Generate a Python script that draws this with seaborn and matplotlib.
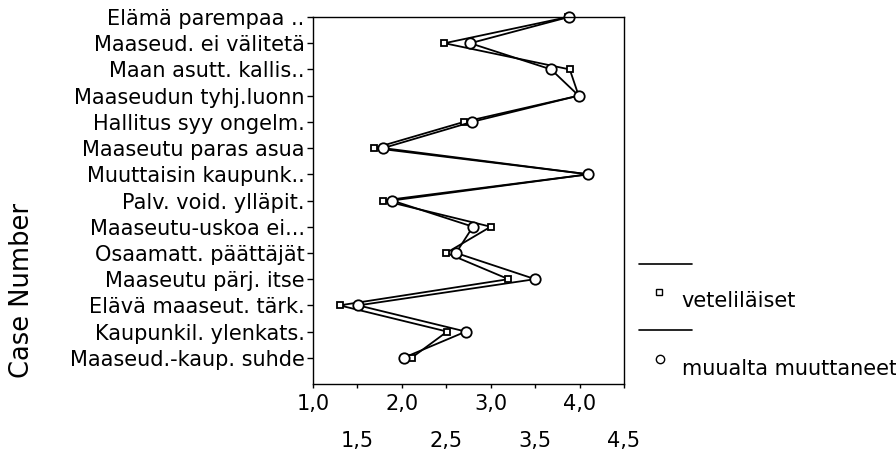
import matplotlib
matplotlib.use("Agg")
import matplotlib.pyplot as plt
from matplotlib.lines import Line2D
from matplotlib.ticker import FixedLocator, FixedFormatter
import seaborn as sns
import pandas as pd

categories = [
    "Elämä parempaa ..",
    "Maaseud. ei välitetä",
    "Maan asutt. kallis..",
    "Maaseudun tyhj.luonn",
    "Hallitus syy ongelm.",
    "Maaseutu paras asua",
    "Muuttaisin kaupunk..",
    "Palv. void. ylläpit.",
    "Maaseutu-uskoa ei...",
    "Osaamatt. päättäjät",
    "Maaseutu pärj. itse",
    "Elävä maaseut. tärk.",
    "Kaupunkil. ylenkats.",
    "Maaseud.-kaup. suhde",
]
veteli = [3.87, 2.48, 3.89, 3.99, 2.70, 1.69, 4.10, 1.79, 3.00, 2.50, 3.20, 1.30, 2.51, 2.11]
muualta = [3.88, 2.77, 3.68, 3.99, 2.79, 1.79, 4.10, 1.89, 2.80, 2.61, 3.50, 1.51, 2.72, 2.02]
series_names = ["veteliläiset", "muualta muuttaneet"]
major_ticks = [1.0, 2.0, 3.0, 4.0]
major_labels = ["1,0", "2,0", "3,0", "4,0"]
minor_ticks = [1.5, 2.5, 3.5, 4.5]
minor_labels = ["1,5", "2,5", "3,5", "4,5"]

rows = []
for i, c in enumerate(categories):
    rows.append({"pos": i, "value": veteli[i], "group": series_names[0]})
for i, c in enumerate(categories):
    rows.append({"pos": i, "value": muualta[i], "group": series_names[1]})
df = pd.DataFrame(rows)

sns.set_style("white")
plt.rcParams["font.family"] = ["DejaVu Sans"]
plt.rcParams["text.color"] = "black"
plt.rcParams["xtick.color"] = "black"
plt.rcParams["ytick.color"] = "black"

fig = plt.figure(figsize=(8.96, 4.61), dpi=100)
ax = fig.add_axes([0.3493, 0.167, 0.3471, 0.7961])

sns.lineplot(data=df, x="value", y="pos", hue="group", style="group",
             markers=["s", "o"], dashes=False, sort=False, estimator=None,
             palette=["black", "black"], legend=False, ax=ax, lw=1.3)

for line, ms in zip(ax.lines, [5, 7.5]):
    line.set_markerfacecolor("white")
    line.set_markeredgecolor("black")
    line.set_markeredgewidth(1.3)
    line.set_markersize(ms)
    line.set_clip_on(False)

ax.set_xlim(1.0, 4.5)
ax.set_ylim(14, 0)
ax.set_yticks(range(len(categories)))
ax.set_yticklabels(categories)
ax.xaxis.set_major_locator(FixedLocator(major_ticks))
ax.xaxis.set_major_formatter(FixedFormatter(major_labels))
ax.xaxis.set_minor_locator(FixedLocator(minor_ticks))
ax.xaxis.set_minor_formatter(FixedFormatter(minor_labels))
ax.tick_params(axis="y", which="major", left=True, length=4, width=1, pad=2,
               labelsize=15, color="black", labelcolor="black")
ax.tick_params(axis="x", which="major", bottom=True, length=3, width=1, pad=4,
               labelsize=15, color="black", labelcolor="black")
ax.tick_params(axis="x", which="minor", bottom=True, length=3, width=1, pad=31,
               labelsize=15, color="black", labelcolor="black")
ax.set_xlabel("")
ax.set_ylabel("")
for s in ax.spines.values():
    s.set_visible(True)
    s.set_color("black")
    s.set_linewidth(1.0)

fig.text(0.025, 0.37, "Case Number", rotation=90, fontsize=18.5, ha="center", va="center",
         color="black")

# custom legend
fig.add_artist(Line2D([0.713, 0.772], [0.427, 0.427], color="black", lw=1.2,
                      transform=fig.transFigure))
fig.add_artist(Line2D([0.7355], [0.366], marker="s", markersize=4, markerfacecolor="white",
                      markeredgecolor="black", markeredgewidth=1, linestyle="none",
                      transform=fig.transFigure))
fig.text(0.761, 0.348, series_names[0], fontsize=15, ha="left", va="center", color="black")
fig.add_artist(Line2D([0.713, 0.772], [0.284, 0.284], color="black", lw=1.2,
                      transform=fig.transFigure))
fig.add_artist(Line2D([0.7366], [0.221], marker="o", markersize=6, markerfacecolor="white",
                      markeredgecolor="black", markeredgewidth=1, linestyle="none",
                      transform=fig.transFigure))
fig.text(0.761, 0.200, series_names[1], fontsize=15, ha="left", va="center", color="black")

fig.savefig("out.png", dpi=100)
